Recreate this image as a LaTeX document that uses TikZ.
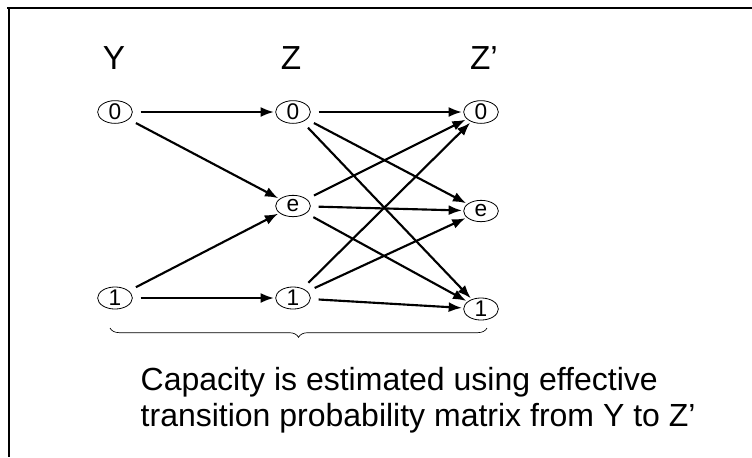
\documentclass[tikz,border=0pt]{standalone}
\usepackage{fontspec}
\setmainfont{Liberation Sans}
\usetikzlibrary{shapes.geometric, arrows.meta, decorations.pathreplacing}

\begin{document}
\begin{tikzpicture}[
    x=0.75pt, y=-0.75pt,
    symbol/.style={ellipse, draw=black, line width=0.6pt, inner sep=0pt, minimum width=26pt, minimum height=16pt, font=\fontsize{17}{17}\selectfont},
    layer/.style={font=\fontsize{25}{25}\selectfont},
    arrow/.style={line width=1.6pt, -{Latex[length=10pt,width=7.5pt]}, shorten <=6pt, shorten >=1pt}
]
\useasboundingbox (0,0) rectangle (752,457);
% frame
\draw[line width=1.5pt] (7,8) -- (752,8);
\draw[line width=1.2pt] (9,8) -- (9,457);

\node[layer] (ly) at (114,58) {Y};
\node[layer] (lz) at (291,58) {Z};
\node[layer] (lzp) at (484,58) {Z'};

\node (y0) [symbol] at (115,112) {0};
\node (y1) [symbol] at (115,298) {1};
\node (z0) [symbol] at (293,112) {0};
\node (ze) [symbol] at (293,206) {e};
\node (z1) [symbol] at (293,298) {1};
\node (w0) [symbol] at (481,112) {0};
\node (we) [symbol] at (481,211) {e};
\node (w1) [symbol] at (481,309) {1};

\draw [arrow] (y0) -- (z0);
\draw [arrow] (y0) -- (ze);
\draw [arrow] (y1) -- (ze);
\draw [arrow] (y1) -- (z1);
\foreach \s in {z0,ze,z1}
  \foreach \t in {w0,we,w1}
    \draw [arrow] (\s) -- (\t);

\draw[line width=0.5pt, decorate, decoration={brace, mirror, amplitude=7pt}] (110,328) -- (487,328);

\node (note) [anchor=north west, align=left, font=\fontsize{24}{27}\selectfont] at (136,363)
  {Capacity is estimated using effective\\transition probability matrix from Y to Z'};
\end{tikzpicture}
\end{document}
